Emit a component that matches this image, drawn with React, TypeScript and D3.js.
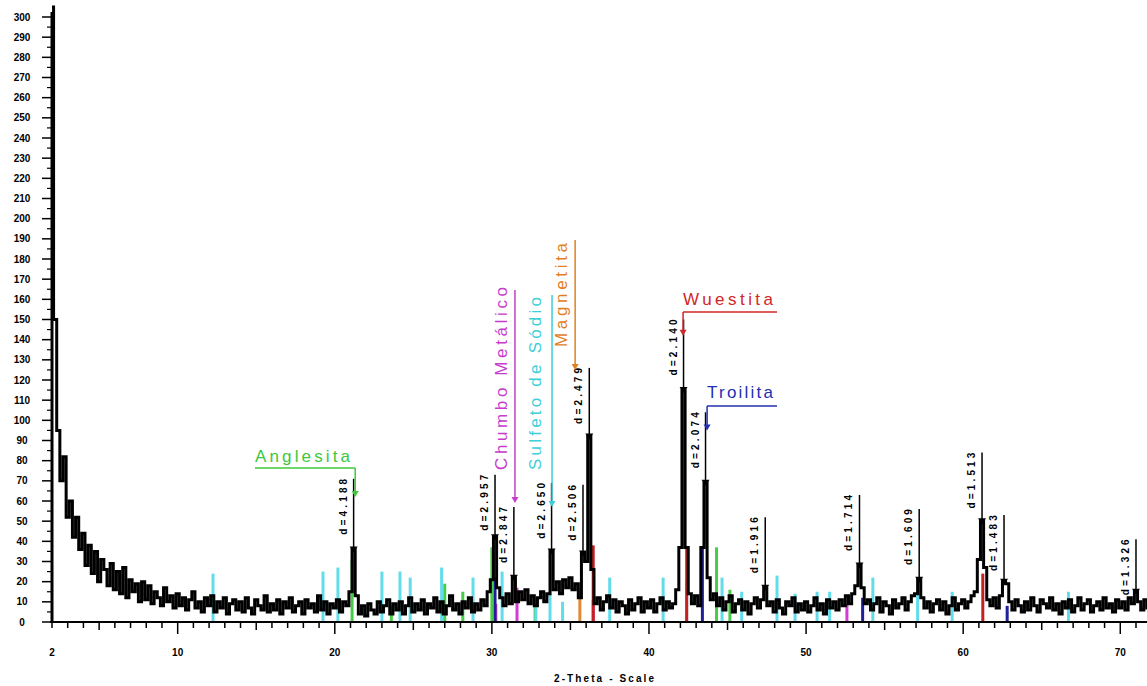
import React from 'react';
import * as d3 from 'd3';

const W = 1147;
const H = 686;
const FONT = "'Liberation Sans', Arial, sans-serif";

// Scan: 2θ from 2.0° in 0.2° steps, intensity in counts
const scanStart = 2.0;
const scanStep = 0.2;
const counts = [
  305, 150, 95, 70, 82, 52, 60, 42, 52, 36,
  44, 28, 38, 24, 35, 20, 31, 26, 18, 29,
  16, 25, 14, 27, 12, 21, 15, 19, 10, 20,
  11, 18, 9, 15, 12, 8, 17, 10, 13, 7,
  14, 8, 12, 6, 11, 15, 7, 10, 5, 12,
  8, 13, 5, 10, 7, 12, 4, 9, 11, 6,
  10, 5, 12, 7, 4, 11, 8, 6, 13, 5,
  9, 6, 11, 4, 10, 7, 12, 5, 8, 10,
  4, 11, 7, 9, 5, 13, 6, 10, 4, 9,
  7, 11, 5, 10, 8, 15, 36, 13, 4, 8,
  3, 9, 6, 4, 10, 5, 8, 11, 4, 9,
  6, 10, 4, 8, 12, 5, 9, 6, 11, 4,
  9, 7, 12, 5, 10, 4, 8, 13, 6, 9,
  4, 10, 7, 12, 5, 9, 6, 11, 8, 15,
  21, 42, 17, 12, 8, 14, 9, 22, 10, 15,
  11, 16, 9, 13, 8, 12, 15, 10, 14, 35,
  16, 20, 14, 21, 17, 22, 16, 19, 12, 34,
  30, 92, 26, 9, 12, 6, 10, 13, 7, 11,
  5, 10, 8, 4, 11, 6, 9, 12, 5, 10,
  7, 11, 5, 9, 12, 6, 10, 7, 9, 16,
  37, 115, 37, 14, 9, 13, 8, 37, 69, 22,
  11, 14, 8, 12, 6, 10, 13, 5, 9, 11,
  6, 10, 4, 9, 12, 7, 11, 17, 8, 10,
  5, 11, 7, 4, 10, 8, 12, 5, 9, 6,
  10, 5, 8, 12, 6, 9, 4, 11, 7, 10,
  6, 11, 8, 13, 9, 14, 18, 28, 17, 9,
  11, 6, 9, 12, 5, 10, 8, 4, 11, 7,
  9, 12, 6, 10, 13, 14, 21, 12, 7, 10,
  5, 9, 11, 6, 10, 4, 8, 12, 6, 9,
  11, 7, 10, 13, 15, 31, 50, 27, 11, 8,
  12, 7, 13, 20, 19, 10, 6, 11, 8, 5,
  10, 6, 12, 8, 5, 11, 9, 7, 12, 6,
  9, 4, 10, 7, 11, 5, 8, 12, 6, 9,
  11, 5, 8, 10, 6, 12, 7, 9, 5, 11,
  7, 10, 6, 12, 9, 15, 10, 6, 11, 7,
  9,
];

const xTickLabels = [2, 10, 20, 30, 40, 50, 60, 70];
const yTickLabels = [
  0, 10, 20, 30, 40, 50, 60, 70, 80, 90, 100, 110, 120, 130, 140, 150,
  160, 170, 180, 190, 200, 210, 220, 230, 240, 250, 260, 270, 280, 290, 300,
];

// Indexed peaks (2θ) and the height (counts) their d-label lines reach
const peakPositions = [21.2, 30.2, 31.4, 33.8, 35.8, 36.2, 42.2, 43.6, 47.4, 53.4, 57.2, 61.2, 62.6, 71.0];
const peakLineTops = [71, 73, 57, 69, 68, 126, 150, 104, 52, 63, 56, 84, 53, 41];
const wavelength = 1.5406; // Cu Kα1, Å

// Reference patterns: [2θ, counts]
const anglesitaSticks = [[21.1, 31], [23.6, 8], [27.0, 19], [28.15, 15], [30.0, 37], [32.75, 8], [44.3, 37], [45.15, 16]];
const chumboSticks = [[30.25, 9], [31.6, 17], [36.45, 11], [52.6, 9]];
const sulfetoSticks = [
  [12.25, 24], [19.25, 25], [20.2, 27], [23.0, 25], [24.15, 25], [24.8, 22], [26.8, 27], [28.8, 22],
  [30.65, 25], [32.8, 12], [33.7, 15], [34.5, 10], [37.5, 22], [40.9, 22], [42.4, 20], [44.65, 22],
  [45.9, 15], [48.15, 23], [49.3, 14], [50.7, 15], [51.5, 15], [54.25, 22], [57.1, 14], [59.3, 15], [66.7, 15],
];
const magnetitaSticks = [[35.6, 16]];
const wuestitaSticks = [[36.45, 38], [42.4, 37], [61.25, 24]];
const troilitaSticks = [[30.2, 22], [43.4, 37], [53.6, 12], [62.8, 8]];

const phaseNames = ['Anglesita', 'Chumbo Metálico', 'Sulfeto de Sódio', 'Magnetita', 'Wuestita', 'Troilita'];
const phaseColors = ['#3cc83c', '#c63ccb', '#3ecfd9', '#e2801f', '#d22626', '#2030b0'];
const stickColors = ['#48cc48', '#d23cd2', '#62dcea', '#e08a30', '#c42020', '#20209a'];
const phaseSticks = [anglesitaSticks, chumboSticks, sulfetoSticks, magnetitaSticks, wuestitaSticks, troilitaSticks];
// Where each phase label points: 2θ and arrow tip height (counts)
const phaseTargets = [21.3, 31.47, 33.83, 35.3, 42.17, 43.7];
const phaseArrowTips = [62, 59, 57, 125, 142, 95];

// Label placement (pixels)
const labelLayout = [
  { kind: 'h', textX: 255, baseline: 462, len: 95, lineY: 468, lineX1: 255, lineX2: null },
  { kind: 'v', baseX: 507, bottom: 470, len: 183, lineTop: 290 },
  { kind: 'v', baseX: 541, bottom: 470, len: 173, lineTop: 295 },
  { kind: 'v', baseX: 567, bottom: 347, len: 104, lineTop: 240 },
  { kind: 'h', textX: 683, baseline: 305, len: 90, lineY: 312, lineX1: null, lineX2: 777 },
  { kind: 'h', textX: 707, baseline: 398, len: 66, lineY: 406, lineX1: null, lineX2: 777 },
];

export default function App() {
  const x = d3.scaleLinear().domain([2, 72]).range([52, 52 + 70 * 15.71]);
  const y = d3.scaleLinear().domain([0, 300]).range([622, 17]);

  const scan = counts.map((c, i) => ({ t: scanStart + i * scanStep, c }));
  const line = d3
    .line<{ t: number; c: number }>()
    .x((d) => x(d.t))
    .y((d) => y(d.c))
    .curve(d3.curveStep);

  const valueAt = (t: number) => counts[Math.round((t - scanStart) / scanStep)];
  const dSpacing = (t: number) => wavelength / (2 * Math.sin(((t / 2) * Math.PI) / 180));

  const minorX = d3.range(2, 73, 1);
  const minorY = d3.range(5, 300, 10);

  const arrowHead = (cx: number, tipY: number, color: string, key: string) => (
    <path key={key} d={`M${cx - 3.5},${tipY - 6}L${cx + 3.5},${tipY - 6}L${cx},${tipY}Z`} fill={color} />
  );

  return (
    <svg
      width={W}
      height={H}
      viewBox={`0 0 ${W} ${H}`}
      style={{ position: 'absolute', left: 0, top: 0, background: '#fff' }}
      fontFamily={FONT}
    >
      <defs>
        <clipPath id="plot">
          <rect x={52} y={0} width={W - 52} height={623} />
        </clipPath>
      </defs>

      {/* reference pattern sticks */}
      <g clipPath="url(#plot)">
        {phaseSticks.map((sticks, pi) =>
          sticks.map(([t, c], si) => (
            <rect
              key={`s${pi}-${si}`}
              x={x(t) - 1.5}
              y={y(c)}
              width={3}
              height={y(0) - y(c)}
              fill={stickColors[pi]}
            />
          ))
        )}
      </g>

      {/* measured pattern */}
      <path
        d={line(scan) ?? ''}
        fill="none"
        stroke="#000"
        strokeWidth={3}
        strokeLinejoin="miter"
        clipPath="url(#plot)"
      />

      {/* peak markers with d-spacings */}
      {peakPositions.map((t, i) => {
        const px = x(t);
        const py = y(valueAt(t));
        const top = y(peakLineTops[i]);
        return (
          <g key={`p${i}`}>
            <line x1={px} x2={px} y1={top} y2={py} stroke="#000" strokeWidth={1.5} />
            <path d={`M${px - 4},${py - 3}L${px + 4},${py - 3}L${px},${py + 3}Z`} fill="#000" />
            <text
              transform={`translate(${px - 7},${top}) rotate(-90)`}
              textAnchor="end"
              fontSize={10}
              fontWeight="bold"
              textLength={56}
              lengthAdjust="spacing"
              fill="#000"
            >
              {`d=${dSpacing(t).toFixed(3)}`}
            </text>
          </g>
        );
      })}

      {/* phase labels */}
      {phaseNames.map((name, i) => {
        const L = labelLayout[i];
        const color = phaseColors[i];
        const tx = x(phaseTargets[i]);
        const tip = y(phaseArrowTips[i]);
        if (L.kind === 'h') {
          const x1 = L.lineX1 ?? tx;
          const x2 = L.lineX2 ?? tx;
          return (
            <g key={`l${i}`}>
              <text x={L.textX} y={L.baseline} fontSize={17} fill={color} textLength={L.len} lengthAdjust="spacing">
                {name}
              </text>
              <line x1={x1} x2={x2} y1={L.lineY} y2={L.lineY} stroke={color} strokeWidth={1.5} />
              <line x1={tx} x2={tx} y1={L.lineY} y2={tip - 4} stroke={color} strokeWidth={1.5} />
              {arrowHead(tx, tip, color, `a${i}`)}
            </g>
          );
        }
        return (
          <g key={`l${i}`}>
            <text
              transform={`translate(${L.baseX},${L.bottom}) rotate(-90)`}
              fontSize={17}
              fill={color}
              textLength={L.len}
              lengthAdjust="spacing"
            >
              {name}
            </text>
            <line x1={tx} x2={tx} y1={L.lineTop} y2={tip - 4} stroke={color} strokeWidth={1.5} />
            {arrowHead(tx, tip, color, `a${i}`)}
          </g>
        );
      })}

      {/* y axis */}
      <line x1={52} x2={52} y1={12} y2={623} stroke="#000" strokeWidth={3} />
      {yTickLabels.map((v) => (
        <g key={`yt${v}`}>
          <line x1={42} x2={52} y1={y(v)} y2={y(v)} stroke="#000" strokeWidth={1.5} />
          <text x={22} y={y(v) + 3.5} textAnchor="middle" fontSize={10} fontWeight="bold" fill="#000">
            {v}
          </text>
        </g>
      ))}
      {minorY.map((v) => (
        <line key={`ym${v}`} x1={47} x2={52} y1={y(v)} y2={y(v)} stroke="#000" strokeWidth={1.2} />
      ))}

      {/* x axis */}
      <line x1={50} x2={W} y1={622} y2={622} stroke="#000" strokeWidth={2} />
      {minorX.map((v) => {
        const len = v % 10 === 0 ? 12 : v % 5 === 0 ? 8 : 6;
        return <line key={`xm${v}`} x1={x(v)} x2={x(v)} y1={622} y2={622 + len} stroke="#000" strokeWidth={1.5} />;
      })}
      {xTickLabels.map((v) => (
        <text key={`xt${v}`} x={x(v)} y={656} textAnchor="middle" fontSize={10} fontWeight="bold" fill="#000">
          {v}
        </text>
      ))}
      <text x={604} y={682} textAnchor="middle" fontSize={10} fontWeight="bold" fill="#000" textLength={100} lengthAdjust="spacing">
        2-Theta - Scale
      </text>
    </svg>
  );
}
